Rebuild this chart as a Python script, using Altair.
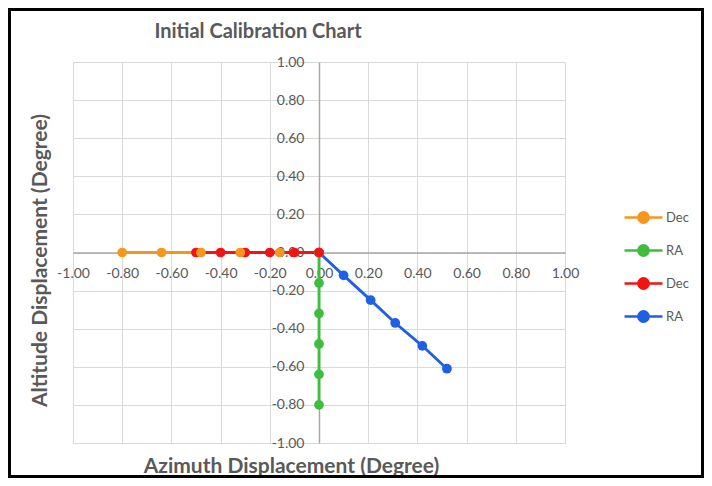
import altair as alt
import pandas as pd

# ---- data ----
tick_values = [-1.0, -0.8, -0.6, -0.4, -0.2, 0.0, 0.2, 0.4, 0.6, 0.8, 1.0]

series_keys = ["Dec1", "RA1", "Dec2", "RA2"]
series_labels = ["Dec", "RA", "Dec", "RA"]
series_colors = ["#F7961E", "#3DBE3D", "#F01414", "#1F5FE6"]

dec1_x = [-0.80, -0.64, -0.48, -0.32, -0.16, 0.00]
dec1_y = [0.00, 0.00, 0.00, 0.00, 0.00, 0.00]

ra1_x = [0.00, 0.00, 0.00, 0.00, 0.00, 0.00]
ra1_y = [0.00, -0.16, -0.32, -0.48, -0.64, -0.80]

dec2_x = [-0.50, -0.40, -0.30, -0.20, -0.10, 0.00]
dec2_y = [0.00, 0.00, 0.00, 0.00, 0.00, 0.00]

ra2_x = [0.00, 0.10, 0.21, 0.31, 0.42, 0.52]
ra2_y = [0.00, -0.12, -0.25, -0.37, -0.49, -0.61]

series_data = [(dec1_x, dec1_y), (ra1_x, ra1_y), (dec2_x, dec2_y), (ra2_x, ra2_y)]

rows = []
for key, (xs, ys) in zip(series_keys, series_data):
    for i, (xv, yv) in enumerate(zip(xs, ys)):
        rows.append({"series": key, "x": xv, "y": yv, "idx": i})
df = pd.DataFrame(rows)

# ---- layout ----
W, H = 492, 381
PAD = {"left": 65, "top": 54, "right": 696 - 65 - W, "bottom": 470 - 54 - H}

FONT = "Lato"
TXT = "#595959"

label_expr = ""
for k, lab in zip(series_keys, series_labels):
    label_expr += f"datum.value == '{k}' ? '{lab}' : "
label_expr += "datum.value"

common_axis = dict(
    values=tick_values, format=".2f", grid=True, gridColor="#d9d9d9", gridWidth=1,
    domainColor="#a6a6a6", domainWidth=1.5, ticks=False,
    labelFont=FONT, labelFontSize=14, labelColor=TXT,
    labelOverlap=False, labelFlush=False, labelBound=False,
    titleFont=FONT, titleFontSize=21, titleFontWeight="bold", titleColor=TXT,
    titleAlign="center", titleBaseline="middle",
)

x_axis = alt.Axis(
    offset=-H / 2, labelPadding=14,
    title="Azimuth Displacement (Degree)", titleX=218, titleY=214, titleAngle=0,
    **common_axis,
)
y_axis = alt.Axis(
    offset=-W / 2, labelPadding=15,
    title="Altitude Displacement (Degree)", titleX=-279, titleY=198, titleAngle=-90,
    **common_axis,
)

legend = alt.Legend(
    orient="none", legendX=550, legendY=135, title=None,
    symbolType="M-1,0L1,0M-0.27,0A0.27,0.27,0,1,1,0.27,0A0.27,0.27,0,1,1,-0.27,0Z",
    symbolSize=1444, symbolStrokeWidth=2.5,
    labelExpr=label_expr, labelFont=FONT, labelFontSize=13, labelColor=TXT,
    rowPadding=2, labelOffset=2,
)

base = alt.Chart(df).encode(
    x=alt.X("x:Q", scale=alt.Scale(domain=[-1, 1], nice=False, zero=False), axis=x_axis),
    y=alt.Y("y:Q", scale=alt.Scale(domain=[-1, 1], nice=False, zero=False), axis=y_axis),
    color=alt.Color("series:N", scale=alt.Scale(domain=series_keys, range=series_colors),
                    legend=legend, sort=series_keys),
    order="idx:Q",
)

lines = base.mark_line(strokeWidth=2.8)
points = base.mark_point(filled=True, size=95, opacity=1)

frame = alt.Chart(alt.Data(values=[{}])).mark_rect(
    fill=None, stroke="black", strokeWidth=3
).encode(
    x=alt.value(-PAD["left"] + 1.5), x2=alt.value(W + PAD["right"] - 1.5),
    y=alt.value(-PAD["top"] + 1.5), y2=alt.value(H + PAD["bottom"] - 1.5),
)

chart = alt.layer(lines, points, frame).properties(
    width=W, height=H, padding=PAD, autosize="none",
    title=alt.TitleParams(
        "Initial Calibration Chart", font=FONT, fontSize=20, fontWeight="bold",
        color=TXT, anchor="middle", frame="group", dx=-61, offset=-34,
    ),
).configure_view(stroke="#808080", strokeWidth=1.5).configure(
    background="white",
    locale={"number": {"decimal": ".", "thousands": ",", "grouping": [3],
                       "currency": ["$", ""], "minus": "-"}},
)

chart.save("out.html", embed_options={"renderer": "svg", "actions": False})
